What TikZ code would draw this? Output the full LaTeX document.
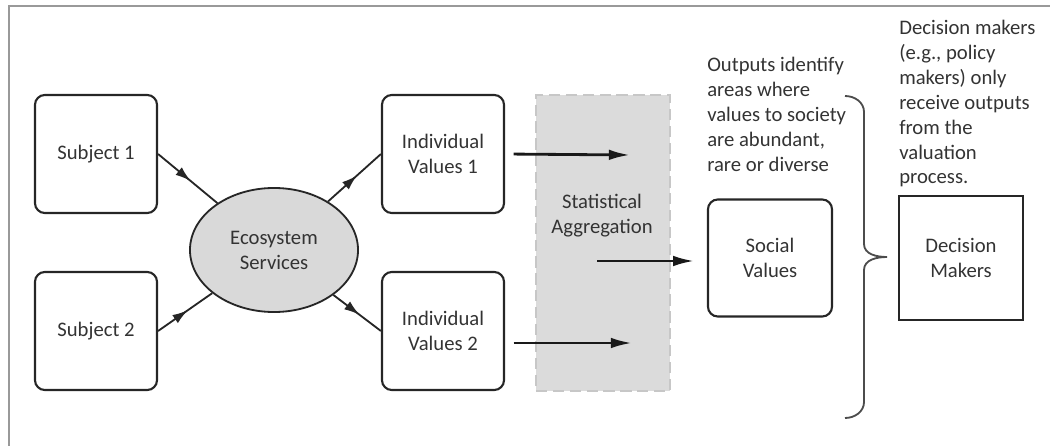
\documentclass[tikz,border=0pt]{standalone}
\usepackage{fontspec}
\setmainfont{Carlito}
\usetikzlibrary{arrows.meta,shapes.geometric,decorations.markings}

\begin{document}
\begin{tikzpicture}[x=0.025cm,y=-0.025cm,
  font=\fontsize{14.7}{17.7}\selectfont,
  every node/.style={text=black!80},
  rbox/.style={draw=black!85,line width=1.5pt,rounded corners=7pt,minimum width=3.05cm,minimum height=2.95cm,align=center},
  midarrow/.style={draw=black!85,line width=1.3pt,postaction={decorate},
    decoration={markings,mark=at position 0.55 with {\arrow{Latex[length=11pt,width=7pt]}}}},
  flow/.style={draw=black!90,line width=2pt,-{Latex[length=15pt,width=7.5pt]}}
]

\useasboundingbox (0,0) rectangle (1050,446);

\draw[black!40,line width=1.5pt] (9,446) -- (9,6) -- (1050,6); % Outline of frame

% Aggregation band
\node[fill=black!14,draw=black!22,dash pattern=on 8pt off 4pt,line width=1.5pt,minimum width=3.35cm,minimum height=7.4cm] (agg) at (603,243) {};
\node[align=center] (aggtext) at (602,216) {Statistical\\Aggregation};

\node[rbox] (sub1) at (96,154) {Subject 1}; % Subject - Top
\node[rbox] (sub2) at (96,331) {Subject 2}; % Subject - Bottom
\node[ellipse,draw=black!85,line width=1.3pt,fill=black!15,minimum width=4.2cm,minimum height=3.1cm,align=center] (eco) at (274,250) {Ecosystem\\Services};
\node[rbox] (ind1) at (443,154) {Individual\\Values 1}; % Values - Top
\node[rbox] (ind2) at (443,331) {Individual\\Values 2}; % Values - Bottom
\node[rbox,minimum width=3.1cm,minimum height=2.925cm] (soc) at (770,258) {Social\\Values};
\node[draw=black!85,line width=1.5pt,minimum width=3.1cm,minimum height=3.1cm,align=center] (dec) at (961,258) {Decision\\Makers};

% Notes
\node[anchor=north west,align=left,inner sep=0pt] (outtxt) at (707,57) {Outputs identify\\areas where\\values to society\\are abundant,\\rare or diverse};
\node[anchor=north west,align=left,inner sep=0pt] (dectxt) at (899,20) {Decision makers\\(e.g., policy\\makers) only\\receive outputs\\from the\\valuation\\process.};

% Subjects to services to values
\draw[midarrow] (sub1.east) -- (eco);
\draw[midarrow] (sub2.east) -- (eco);
\draw[midarrow] (eco) -- (ind1.west);
\draw[midarrow] (eco) -- (ind2.west);

% Into and out of aggregation
\coordinate (in1) at (630,155);
\coordinate (in2) at (632,343);
\coordinate (out) at (597,261);
\draw[flow,shorten <=6pt] (ind1.east) -- (in1);
\draw[flow,shorten <=6pt] (ind2.east |- in2) -- (in2);
\draw[flow,shorten >=9pt] (out) -- (out -| soc.west);

% Brace
\draw[black!70,line width=1.3pt] (845,96) to[out=0,in=90] (864,112) -- (864,244)
  to[out=-90,in=180] (887,257) to[out=180,in=90] (864,270) -- (864,402)
  to[out=-90,in=0] (845,418);

\end{tikzpicture}
\end{document}
